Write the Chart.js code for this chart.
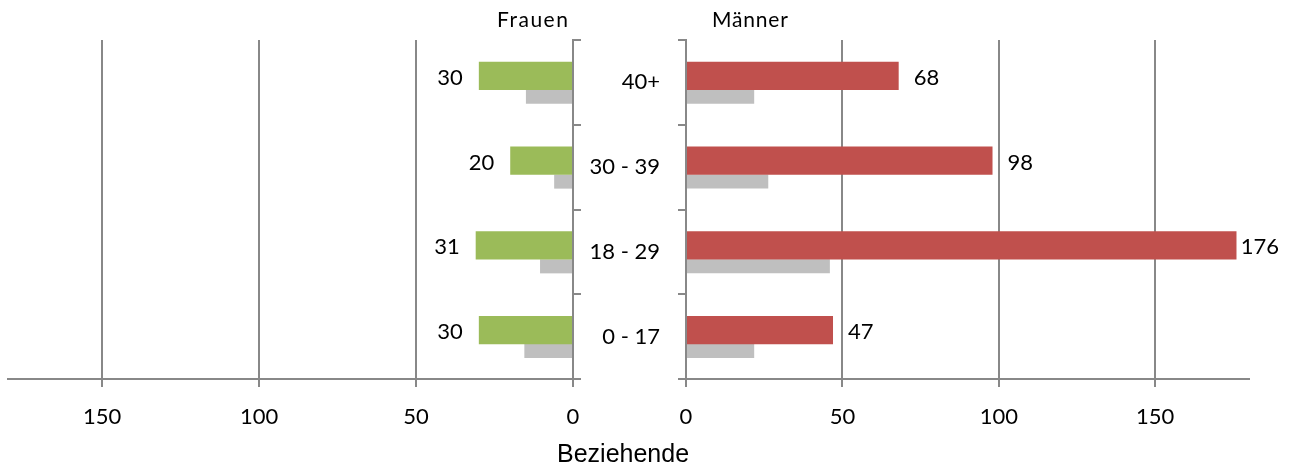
<!DOCTYPE html>
<html lang="de">
<head>
<meta charset="utf-8">
<title>Beziehende nach Alter und Geschlecht</title>
<script src="https://cdn.jsdelivr.net/npm/chart.js@4/dist/chart.umd.min.js"></script>
<style>
  body { margin: 0; background: #fff; }
  #page { position: relative; width: 1295px; height: 468px; overflow: hidden; }
  .panel { position: absolute; top: 0; height: 468px; }
  #left { left: 0; width: 600px; }
  #right { left: 560px; width: 735px; }
  .label { position: absolute; color: #000; white-space: nowrap; }
  #frauen { left: 497px; top: 6px; font: 21px Lato, sans-serif; letter-spacing: 1.5px; }
  #maenner { left: 712px; top: 6px; font: 21px Lato, sans-serif; letter-spacing: 0.8px; }
  #beziehende { left: 557px; top: 439px; font: 25px "Liberation Sans", Arial, sans-serif; }
</style>
</head>
<body>
<div id="page">
  <div class="panel" id="left"><canvas id="chartFrauen"></canvas></div>
  <div class="panel" id="right"><canvas id="chartMaenner"></canvas></div>
  <div class="label" id="frauen">Frauen</div>
  <div class="label" id="maenner">Männer</div>
  <div class="label" id="beziehende">Beziehende</div>
</div>

<script>
// values
const ageGroups = ["40+", "30 - 39", "18 - 29", "0 - 17"];
const frauen = [30, 20, 31, 30];
const frauenGrey = [15, 6, 10.5, 15.5];   // grey bars have no labels, estimated
const maenner = [68, 98, 176, 47];
const maennerGrey = [21.8, 26.3, 46, 21.8];
const axisTicks = [0, 50, 100, 150];
const axisMax = 180;

const GREEN = "#9BBB59";
const RED = "#C0504D";
const GREY = "#BFBFBF";
const LINE = "#888888";

Chart.defaults.font.family = "Lato, sans-serif";
Chart.defaults.font.size = 22;
Chart.defaults.color = "#000";

// numbers at the end of the coloured bars
const valueLabels = {
    id: "valueLabels",
    afterDatasetsDraw(chart, args, opts) {
        const ctx = chart.ctx;
        const meta = chart.getDatasetMeta(0);
        const values = chart.data.datasets[0].data;
        ctx.save();
        ctx.font = "22px Lato, sans-serif";
        ctx.fillStyle = "#000";
        ctx.textBaseline = "middle";
        meta.data.forEach((bar, i) => {
            const text = String(values[i]);
            const w = ctx.measureText(text).width;
            if (opts.side === "left") {
                ctx.textAlign = "right";
                ctx.fillText(text, bar.x - 16, bar.y + 2);
            } else {
                ctx.textAlign = "left";
                const x = Math.min(bar.x + 15, chart.width - 16 - w); // 176 is squeezed in
                ctx.fillText(text, x, bar.y + 2);
            }
        });
        ctx.restore();
    }
};

const makeChart = (canvasId, main, grey, colour, side) => {
    const isLeft = side === "left";

    // bar offsets inside each category band: coloured bar on top, thin grey bar just below
    const datasets = [
        {
            label: isLeft ? "Frauen" : "Männer",
            data: main,
            backgroundColor: colour,
            categoryPercentage: 0.307,
            barPercentage: 2.154,
        },
        {
            label: "Vergleich",
            data: grey,
            backgroundColor: GREY,
            categoryPercentage: 0.684,
            barPercentage: 0.483,
        },
    ];

    const config = {
        type: "bar",
        data: { labels: ageGroups, datasets },
        plugins: [valueLabels],
        options: {
            indexAxis: "y",
            responsive: true,
            maintainAspectRatio: false,
            animation: false,
            events: [],
            layout: {
                padding: isLeft
                    ? { left: 8, top: 40, right: 0, bottom: 39 }
                    : { left: 0, top: 40, right: 46, bottom: 39 },
            },
            plugins: {
                legend: { display: false },
                tooltip: { enabled: false },
                valueLabels: { side },
            },
            scales: {
                x: {
                    type: "linear",
                    min: 0,
                    max: axisMax,
                    reverse: isLeft,
                    afterBuildTicks: (s) => { s.ticks = axisTicks.map((v) => ({ value: v })); },
                    afterFit: (s) => { s.height = 50; },
                    ticks: { padding: 17, maxRotation: 0 },
                    grid: { color: LINE, lineWidth: 2, tickLength: 8 },
                    border: { display: true, color: LINE, width: 2 },
                },
                y: {
                    type: "category",
                    position: isLeft ? "right" : "left",
                    afterFit: (s) => { s.width = isLeft ? 27 : 126; },
                    ticks: { display: !isLeft, padding: 18 },
                    grid: { offset: true, drawOnChartArea: false, color: LINE, lineWidth: 2, tickLength: 8 },
                    border: { display: true, color: LINE, width: 2 },
                },
            },
        },
    };

    return new Chart(document.getElementById(canvasId), config);
};

makeChart("chartFrauen", frauen, frauenGrey, GREEN, "left");
makeChart("chartMaenner", maenner, maennerGrey, RED, "right");
</script>
</body>
</html>
